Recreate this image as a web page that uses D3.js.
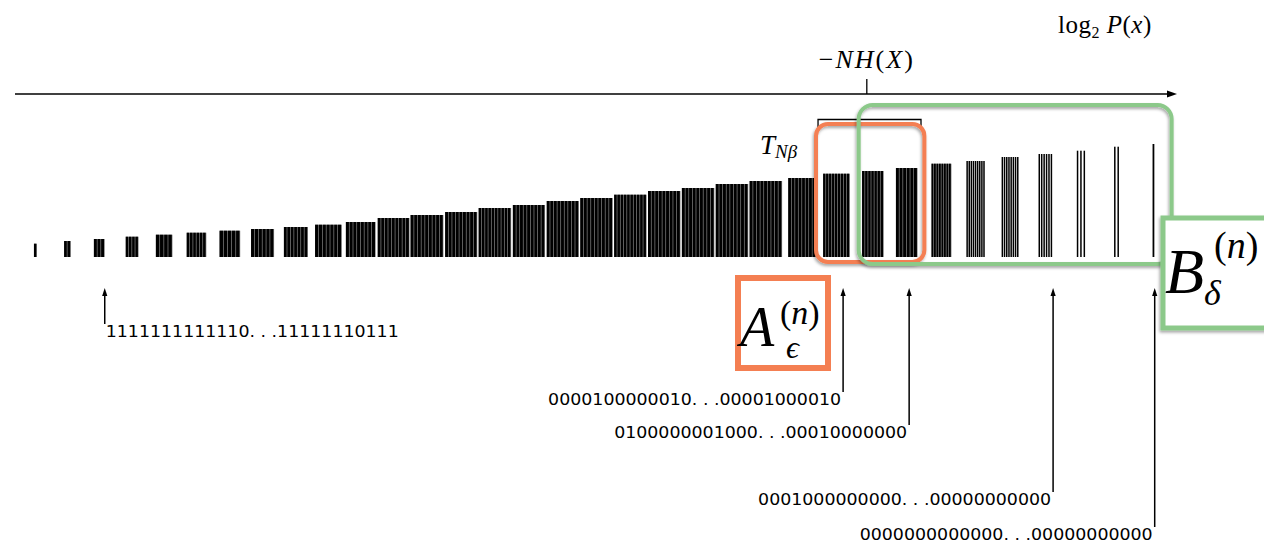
<!DOCTYPE html>
<html><head><meta charset="utf-8">
<script src="https://cdn.jsdelivr.net/npm/d3@7"></script>
<style>html,body{margin:0;padding:0;background:#fff;overflow:hidden}</style>
</head><body>
<svg id="c" width="1264" height="547"></svg>
<script>
// ---- data ----
const onesCount = [33,32,31,30,29,28,27,26,25,24,23,22,21,20,19,18,17,16,15,14,13,12,11,10,9,8,7,6,5,4,3,2,1,0];
const classHeight = [13.3,16,18,20.3,22.3,24.3,26.3,28,30,32.3,35,39,42,45,49,52,56,59,62.3,66,69,73,76,79,83.3,86,89,93.3,96,100,103,106.3,110.3,113];
const classWidth = [0.09,0.20,0.32,0.38,0.49,0.58,0.61,0.68,0.71,0.79,0.88,0.94,0.97,0.95,0.96,0.95,0.95,0.96,0.96,0.96,0.96,0.96,0.96,0.82,0.79,0.64,0.64,0.59,0.56,0.52,0.43,0.30,0.20,0.06];
const strokeCount = [1,2,3,4,4,6,5,6,7,7,8,9,9,9,10,9,9,9,10,9,9,9,9,8,9,7,6,8,9,8,6,3,2,1];
const pointerOnes = [31, 9.2, 7.25, 3, 0];
const pointerLabels = ["1111111111110...11111110111","0000100000010...00001000010","0100000001000...00010000000","0001000000000...00000000000","0000000000000...00000000000"];
const entropyOnes = 8.5;
const typicalSet = [9.94, 6.9];
const setA = [10.0, 6.8];
const setB = [8.74, -0.5];

// ---- layout ----
const svg = d3.select("#c");
const x = d3.scaleLinear().domain([33, 0]).range([37, 1154.7]);
const y = d3.scaleLinear().domain([0, 120]).range([257, 137]);
const ORANGE = "#f47f52", GREEN = "#8cc98a";
const serif = "'Liberation Serif','DejaVu Serif',serif";

const defs = svg.append("defs");
const f = defs.append("filter").attr("id","sh").attr("x","-10%").attr("y","-10%").attr("width","120%").attr("height","130%");
f.append("feDropShadow").attr("dx",-1).attr("dy",2).attr("stdDeviation",1.6).attr("flood-color","#000").attr("flood-opacity",0.35);

// axis
const axisY = 94;
svg.append("line").attr("x1",15).attr("x2",1168).attr("y1",axisY).attr("y2",axisY).attr("stroke","#000").attr("stroke-width",1.6);
svg.append("path").attr("d",`M1177,${axisY} L1167,${axisY-3.5} L1167,${axisY+3.5} Z`).attr("fill","#000");
svg.append("line").attr("x1",x(entropyOnes)).attr("x2",x(entropyOnes)).attr("y1",79).attr("y2",axisY).attr("stroke","#000").attr("stroke-width",1.3);
const nh = svg.append("text").attr("x",x(entropyOnes)).attr("y",68).attr("text-anchor","middle")
  .attr("font-family",serif).attr("font-size",26).attr("letter-spacing",2);
nh.append("tspan").text("−");
nh.append("tspan").attr("font-style","italic").text("NH");
nh.append("tspan").text("(");
nh.append("tspan").attr("font-style","italic").text("X");
nh.append("tspan").text(")");
const lg = svg.append("text").attr("x",1058).attr("y",33).attr("font-family",serif).attr("font-size",25).attr("letter-spacing",0.5);
lg.append("tspan").text("log");
lg.append("tspan").attr("font-size",16).attr("dy",5).text("2");
lg.append("tspan").attr("dy",-5).attr("font-style","italic").text(" P");
lg.append("tspan").text("(");
lg.append("tspan").attr("font-style","italic").text("x");
lg.append("tspan").text(")");

// bars
const groups = svg.append("g").selectAll("g").data(onesCount.map((o,i)=>({o,i}))).join("g");
groups.each(function(d){
  const g = d3.select(this);
  const right = x(d.o), left = x(d.o + classWidth[d.i]);
  const W = right - left, n = strokeCount[d.i];
  const top = y(classHeight[d.i]), bot = y(0);
  const p = W / n;
  const thin = d.o <= 5 && d.o >= 1;
  if (!thin) g.append("rect").attr("x",left).attr("y",top).attr("width",W).attr("height",bot-top).attr("fill","#858585");
  for (let k = 0; k < n; k++) {
    const sw = thin ? 1.5 : Math.max(p - 0.7, 1);
    g.append("rect").attr("x", left + k*p).attr("y",top).attr("width",sw).attr("height",bot-top).attr("fill","#000");
  }
});

// T_Nbeta bracket
svg.append("path").attr("d",`M${x(typicalSet[0])},128 V119.5 H${x(typicalSet[1])} V128`).attr("fill","none").attr("stroke","#000").attr("stroke-width",1.3);
const tl = svg.append("text").attr("x",760).attr("y",154).attr("font-family",serif).attr("font-style","italic").attr("font-size",27);
tl.append("tspan").text("T");
tl.append("tspan").attr("font-size",19).attr("dy",4).text("Nβ");

// rounded boxes
svg.append("rect").attr("x",x(setA[0])).attr("y",124).attr("width",x(setA[1])-x(setA[0])).attr("height",138).attr("rx",12)
  .attr("fill","none").attr("stroke",ORANGE).attr("stroke-width",4).attr("filter","url(#sh)");
svg.append("rect").attr("x",x(setB[0])).attr("y",105).attr("width",x(setB[1])-x(setB[0])).attr("height",159).attr("rx",14)
  .attr("fill","none").attr("stroke",GREEN).attr("stroke-width",4).attr("filter","url(#sh)");

// label squares
svg.append("rect").attr("x",738).attr("y",278).attr("width",90).attr("height",90).attr("fill","#fff").attr("stroke",ORANGE).attr("stroke-width",6);
svg.append("rect").attr("x",1163).attr("y",218).attr("width",120).attr("height",110).attr("fill","#fff").attr("stroke",GREEN).attr("stroke-width",5).attr("filter","url(#sh)");

function supTxt(g, xx, yy, size) {
  const t = g.append("text").attr("x",xx).attr("y",yy).attr("font-size",size).attr("font-style","normal");
  t.append("tspan").text("(");
  t.append("tspan").attr("font-style","italic").text("n");
  t.append("tspan").text(")");
}
const aT = svg.append("g").attr("font-family",serif).attr("font-style","italic");
aT.append("text").attr("x",740).attr("y",346).attr("font-size",56).text("A");
supTxt(aT, 780, 324, 34);
aT.append("text").attr("x",786).attr("y",358).attr("font-size",32).text("ϵ");
const bT = svg.append("g").attr("font-family",serif).attr("font-style","italic");
bT.append("text").attr("x",1165).attr("y",293).attr("font-size",64).text("B");
supTxt(bT, 1214, 258, 38);
bT.append("text").attr("x",1204).attr("y",305).attr("font-size",36).text("δ");

// pointers
const levels = [324, 392, 425, 492, 527];
pointerOnes.forEach((o,i)=>{
  const px = x(o);
  svg.append("line").attr("x1",px).attr("x2",px).attr("y1",293).attr("y2",levels[i]).attr("stroke","#000").attr("stroke-width",1.5);
  svg.append("path").attr("d",`M${px},288 L${px-2.6},296 L${px+2.6},296 Z`).attr("fill","#000");
  const t = svg.append("text").attr("y",levels[i]+13).attr("font-family","'DejaVu Sans',sans-serif").attr("font-size",16)
    .attr("textLength",293).attr("lengthAdjust","spacingAndGlyphs").text(pointerLabels[i].replace("...", ". . ."));
  if (i === 0) t.attr("x",px+1); else t.attr("x",px-2-293);
});
</script>
</body></html>
